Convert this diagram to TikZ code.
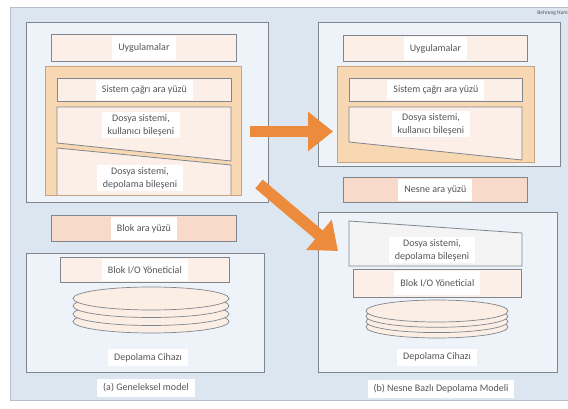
\documentclass[tikz,border=0pt]{standalone}
\usepackage{fontspec}
\setmainfont{Carlito}
\usetikzlibrary{arrows.meta}

\definecolor{bgblue}{HTML}{DCE6F1}
\definecolor{panelfill}{HTML}{EEF3F9}
\definecolor{edgegray}{HTML}{7F868E}
\definecolor{framegray}{HTML}{B5C0CC}
\definecolor{peachlight}{HTML}{FBEFE8}
\definecolor{peachmid}{HTML}{F7DACA}
\definecolor{tan}{HTML}{F7D8B3}
\definecolor{tanedge}{HTML}{C9A27E}
\definecolor{diskfill}{HTML}{FBEEE4}
\definecolor{greybox}{HTML}{F4F4F4}
\definecolor{arroworange}{HTML}{EC8B3B}
\definecolor{txtgray}{HTML}{555555}

\tikzset{
  panel/.style={draw=edgegray, fill=panelfill, line width=0.8pt, anchor=north west, inner sep=0pt},
  layer/.style={draw=edgegray, fill=peachlight, line width=0.8pt, anchor=north west, inner sep=0pt},
  iface/.style={draw=edgegray, fill=peachmid, line width=0.8pt, anchor=north west, inner sep=0pt},
  holder/.style={draw=tanedge, fill=tan, line width=0.8pt, anchor=north west, inner sep=0pt},
  lbl/.style={fill=white, text=txtgray, font=\fontsize{10}{13}\selectfont, align=center, inner xsep=6pt, inner ysep=2pt},
  disk/.style={draw=edgegray, fill=diskfill, line width=0.7pt},
  bigarrow/.style={draw=arroworange, line width=11.5pt, -{Triangle[length=25pt,width=38pt]}}
}

\begin{document}
\begin{tikzpicture}[x=1pt,y=-1pt]
\useasboundingbox (0,0) rectangle (568,409);
\clip (0,0) rectangle (568,409);
\fill[white] (0,0) rectangle (568,409);

% outer frame
\node (frame) [draw=framegray, fill=bgblue, line width=1pt, anchor=north west, inner sep=0pt,
  minimum width=570pt, minimum height=393pt] at (10,7) {};
\node (author) [anchor=north east, inner sep=0pt, text=txtgray, font=\fontsize{5.5}{6}\selectfont] at (568,10) {Behreng Nam};

% ---------------- (a) traditional model ----------------
\node (aup) [panel, minimum width=242pt, minimum height=180pt] at (26,22) {};
\node (aapp) [layer, minimum width=185pt, minimum height=27pt] at (51,34) {};
\node (aor) [holder, minimum width=196pt, minimum height=129pt] at (45,66) {};
\node (asys) [layer, minimum width=174pt, minimum height=23pt] at (57,78) {};
\filldraw[draw=edgegray, fill=peachlight, line width=0.8pt] (57,107) -- (231,107) -- (231,161) -- (57,143) -- cycle;
\filldraw[draw=edgegray, fill=peachlight, line width=0.8pt] (57,195) -- (57,148) -- (231,165) -- (231,195);
\node (ablk) [iface, minimum width=185pt, minimum height=26pt] at (51,215) {};
\node (alow) [panel, minimum width=238pt, minimum height=119pt] at (26,253) {};
\node (abio) [layer, minimum width=169pt, minimum height=25pt] at (60,257) {};

% disk stack (a)
\foreach \cy in {321.5,314,306,298.5}
  \draw[disk] (151,\cy) ellipse [x radius=78, y radius=11.5];

\node (tapp) [lbl, minimum height=24pt] at (aapp.center) {Uygulamalar};
\node (tsys) [lbl, minimum height=20pt] at (asys.center) {Sistem çağrı ara yüzü};
\node (tuser) [lbl] at (141,125) {Dosya sistemi,\\kullanıcı bileşeni};
\node (tstore) [lbl] at (140,178) {Dosya sistemi,\\depolama bileşeni};
\node (tblk) [lbl, minimum height=23pt] at (ablk.center) {Blok ara yüzü};
\node (tbio) [lbl, minimum height=22pt] at (abio.center) {Blok I/O Yöneticial};
\node (tdev) [lbl, minimum height=17pt] at (148,357.5) {Depolama Cihazı};
\node (capa) [lbl, minimum height=18pt] at (146,388) {(a) Geneleksel model};

% ---------------- (b) object based storage model ----------------
\node (bup) [panel, minimum width=242pt, minimum height=144pt] at (318,22) {};
\node (bapp) [layer, minimum width=184pt, minimum height=26pt] at (343,35) {};
\node (bor) [holder, minimum width=197pt, minimum height=96pt] at (337,66) {};
\node (bsys) [layer, minimum width=173pt, minimum height=23pt] at (349,78) {};
\filldraw[draw=edgegray, fill=peachlight, line width=0.8pt] (349,107) -- (522,107) -- (522,160) -- (349,142) -- cycle;
\node (bobj) [iface, minimum width=184pt, minimum height=25pt] at (343,177) {};
\node (blow) [panel, minimum width=239pt, minimum height=160pt] at (318,212) {};
\filldraw[draw=edgegray, fill=greybox, line width=0.8pt] (349,221) -- (522,233) -- (522,266) -- (349,266) -- cycle;
\node (bbio) [layer, minimum width=168pt, minimum height=28pt] at (353,269) {};

% disk stack (b)
\foreach \cy in {327,321.6,316.3,311}
  \draw[disk] (437,\cy) ellipse [x radius=71, y radius=11];

\node (uapp) [lbl, minimum height=23pt] at (bapp.center) {Uygulamalar};
\node (usys) [lbl, minimum height=20pt] at (bsys.center) {Sistem çağrı ara yüzü};
\node (uuser) [lbl] at (431,124) {Dosya sistemi,\\kullanıcı bileşeni};
\node (uobj) [lbl, minimum height=22pt] at (bobj.center) {Nesne ara yüzü};
\node (ustore) [lbl] at (432,250) {Dosya sistemi,\\depolama bileşeni};
\node (ubio) [lbl, minimum height=24pt] at (bbio.center) {Blok I/O Yöneticial};
\node (udev) [lbl, minimum height=17pt] at (437,357) {Depolama Cihazı};
\node (capb) [lbl, minimum height=18pt] at (441,389) {(b) Nesne Bazlı Depolama Modeli};

% transition arrows
\coordinate (hs) at (250,131.5);
\coordinate (he) at (333,131.5);
\coordinate (ds) at (259,184);
\coordinate (de) at (338,251);
\draw[bigarrow] (hs) -- (he);
\draw[bigarrow] (ds) -- (de);
\end{tikzpicture}
\end{document}
